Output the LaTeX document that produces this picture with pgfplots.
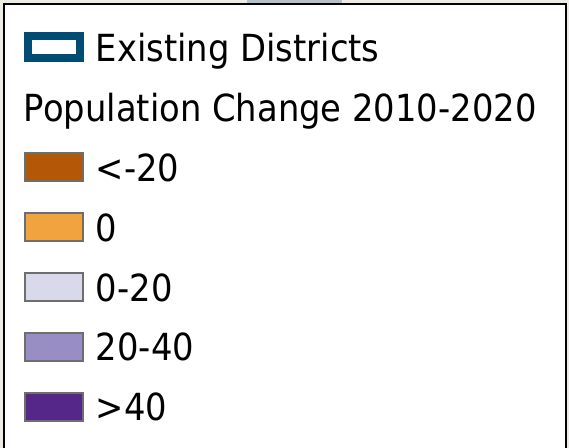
\documentclass[border=0pt]{standalone}
\usepackage{fontspec}
\setmainfont{DejaVu Sans}[FakeStretch=0.905]
\usepackage{pgfplots}
\pgfplotsset{compat=1.18}
\definecolor{exist}{RGB}{0,76,115}
\definecolor{c1}{HTML}{B35806}
\definecolor{c2}{HTML}{F1A340}
\definecolor{c3}{HTML}{D8DAEB}
\definecolor{c4}{HTML}{998EC3}
\definecolor{c5}{HTML}{542788}
\definecolor{pgray}{HTML}{6E6E6E}
\definecolor{bg}{HTML}{EEEBE2}
\definecolor{mapblue}{HTML}{B4C0CC}
\begin{document}
\begin{tikzpicture}
\begin{axis}[
  scale only axis, width=426.75pt, height=336pt,
  xmin=0, xmax=569, ymin=0, ymax=448,
  hide axis,
  legend style={at={(axis description cs:0.042179,0.929688)}, anchor=north west,
    draw=none, fill=none, inner sep=0pt, outer sep=0pt,
    row sep=0pt, column sep=9pt,
    font=\fontsize{28}{30}\selectfont,
    cells={anchor=base west},
    nodes={inner sep=0pt, outer sep=0pt, text height=22.5pt, text depth=22.425pt}},
]
\fill[bg] (axis cs:0,0) rectangle (axis cs:569,448);
\fill[white] (axis cs:4,0) rectangle (axis cs:566,444);
\fill[mapblue] (axis cs:247,445) rectangle (axis cs:342,448);
\draw[black, line width=1.5pt] (axis cs:4,444) rectangle (axis cs:566,-20);
\addlegendimage{legend image code/.code={\draw[exist, line width=6pt, fill=white] (3pt,2.6pt) rectangle (42pt,19.1pt);}}
\addlegendentry{Existing Districts}
\addlegendimage{empty legend}
\addlegendentry{\hspace*{-54pt}Population Change 2010-2020}
\addlegendimage{legend image code/.code={\draw[pgray, line width=1.5pt, fill=c1] (0.75pt,0.2pt) rectangle (44.25pt,21.2pt);}}
\addlegendentry{<-20}
\addlegendimage{legend image code/.code={\draw[pgray, line width=1.5pt, fill=c2] (0.75pt,0.2pt) rectangle (44.25pt,21.2pt);}}
\addlegendentry{0}
\addlegendimage{legend image code/.code={\draw[pgray, line width=1.5pt, fill=c3] (0.75pt,0.2pt) rectangle (44.25pt,21.2pt);}}
\addlegendentry{0-20}
\addlegendimage{legend image code/.code={\draw[pgray, line width=1.5pt, fill=c4] (0.75pt,0.2pt) rectangle (44.25pt,21.2pt);}}
\addlegendentry{20-40}
\addlegendimage{legend image code/.code={\draw[pgray, line width=1.5pt, fill=c5] (0.75pt,0.2pt) rectangle (44.25pt,21.2pt);}}
\addlegendentry{>40}
\end{axis}
\pgfresetboundingbox
\path[use as bounding box] (0,0) rectangle (426.75pt,336pt);
\end{tikzpicture}
\end{document}
